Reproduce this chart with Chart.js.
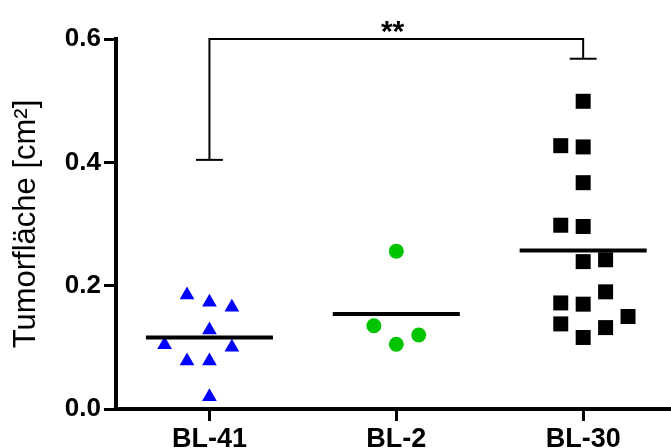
<!DOCTYPE html>
<html>
<head>
<meta charset="utf-8">
<script src="https://cdn.jsdelivr.net/npm/chart.js@4.4.0/dist/chart.umd.min.js"></script>
<style>
html, body { margin: 0; padding: 0; background: #fff; overflow: hidden; }
canvas { display: block; }
</style>
</head>
<body>
<canvas id="plot" width="671" height="448"></canvas>
<script>
var gruppen = ['BL-41', 'BL-2', 'BL-30'];

// Einzelwerte je Gruppe, mit seitlichem Versatz (in Kategorie-Einheiten)
var bl41 = [0.185, 0.173, 0.165, 0.128, 0.104, 0.100, 0.078, 0.078, 0.020];
var bl41x = [-0.12, 0, 0.12, 0, -0.24, 0.12, -0.12, 0, 0];
var bl2 = [0.256, 0.135, 0.120, 0.105];
var bl2x = [0, -0.12, 0.12, 0];
var bl30 = [0.499, 0.427, 0.425, 0.367, 0.298, 0.296, 0.239, 0.242, 0.190, 0.172, 0.170, 0.150, 0.138, 0.132, 0.116];
var bl30x = [0, -0.12, 0, 0, -0.12, 0, 0, 0.12, 0.12, -0.12, 0, 0.24, -0.12, 0.12, 0];

var mittelwerte = [0.116, 0.154, 0.257];
var yTicks = [0.0, 0.2, 0.4, 0.6];

// Signifikanzklammer BL-41 vs BL-30: linkes Ende, oben, rechtes Ende
var klammer = [0.404, 0.6, 0.568];
var signifikanz = '**';

var schrift = "'Liberation Sans', Arial, Helvetica, sans-serif";

function punkte(werte, versatz, pos)
{
    var d = [];
    for (var i = 0; i < werte.length; i++)
        d.push({ x: pos + versatz[i], y: werte[i] });
    return d;
}

function linie(daten, breite)
{
    return {
        data: daten,
        showLine: true,
        borderColor: '#000',
        borderWidth: breite,
        pointRadius: 0,
        clip: false
    };
}

var datasets = [];

for (var i = 0; i < mittelwerte.length; i++)
{
    datasets.push(linie([
        { x: i + 1 - 0.34, y: mittelwerte[i] },
        { x: i + 1 + 0.34, y: mittelwerte[i] }
    ], 4));
}

datasets.push(linie([
    { x: 1, y: klammer[0] }, { x: 1, y: klammer[1] },
    { x: 3, y: klammer[1] }, { x: 3, y: klammer[2] }
], 2));
datasets.push(linie([{ x: 0.928, y: klammer[0] }, { x: 1.072, y: klammer[0] }], 2));
datasets.push(linie([{ x: 2.928, y: klammer[2] }, { x: 3.072, y: klammer[2] }], 2));

datasets.push({
    data: punkte(bl41, bl41x, 1),
    pointStyle: 'triangle',
    pointRadius: 8.5,
    backgroundColor: '#0000ff',
    borderWidth: 0
});
datasets.push({
    data: punkte(bl2, bl2x, 2),
    pointStyle: 'circle',
    pointRadius: 7.5,
    backgroundColor: '#00c400',
    borderWidth: 0
});
datasets.push({
    data: punkte(bl30, bl30x, 3),
    pointStyle: 'rect',
    pointRadius: 10.6,
    backgroundColor: '#000',
    borderWidth: 0
});

var sterne = {
    id: 'sterne',
    afterDatasetsDraw: function (chart)
    {
        var ctx = chart.ctx;
        var x = chart.scales.x.getPixelForValue(1.98);
        var y = chart.scales.y.getPixelForValue(klammer[1]);
        ctx.save();
        ctx.fillStyle = '#000';
        ctx.font = 'bold 30px ' + schrift;
        ctx.textAlign = 'center';
        ctx.textBaseline = 'alphabetic';
        ctx.fillText(signifikanz, x, y + 2);
        ctx.restore();
    }
};

new Chart(document.getElementById('plot'), {
    type: 'scatter',
    data: { datasets: datasets },
    plugins: [sterne],
    options: {
        responsive: false,
        maintainAspectRatio: false,
        devicePixelRatio: 1,
        animation: false,
        events: [],
        layout: { autoPadding: false, padding: { top: 39, right: 0, left: 0, bottom: 0 } },
        plugins: {
            legend: { display: false },
            tooltip: { enabled: false }
        },
        scales: {
            x: {
                type: 'linear',
                min: 0.5,
                max: 3.47,
                afterBuildTicks: function (s) {
                    s.ticks = [1, 2, 3].map(function (v) { return { value: v }; });
                },
                afterFit: function (s) {
                    s.height = 39;
                    s.paddingLeft = 0;
                    s.paddingRight = 0;
                },
                ticks: {
                    color: '#000',
                    padding: 2,
                    font: { family: schrift, size: 27, weight: 'bold' },
                    callback: function (v) { return gruppen[Math.round(v) - 1]; }
                },
                grid: {
                    drawOnChartArea: false,
                    drawTicks: true,
                    tickLength: 12,
                    tickWidth: 3,
                    color: '#000'
                },
                border: { display: true, color: '#000', width: 4 }
            },
            y: {
                min: 0,
                max: 0.6,
                afterBuildTicks: function (s) {
                    s.ticks = yTicks.map(function (v) { return { value: v }; });
                },
                afterFit: function (s) {
                    s.width = 116;
                    s.paddingTop = 0;
                    s.paddingBottom = 0;
                },
                ticks: {
                    color: '#000',
                    padding: 3,
                    font: { family: schrift, size: 26, weight: 'bold' },
                    callback: function (v) { return v.toFixed(1); }
                },
                grid: {
                    drawOnChartArea: false,
                    drawTicks: true,
                    tickLength: 12,
                    tickWidth: 3,
                    color: '#000'
                },
                border: { display: true, color: '#000', width: 4 },
                title: {
                    display: true,
                    text: 'Tumorfläche [cm²]',
                    color: '#000',
                    font: { family: schrift, size: 31, weight: 'normal' },
                    padding: { top: 8, bottom: 0 }
                }
            }
        }
    }
});
</script>
</body>
</html>
